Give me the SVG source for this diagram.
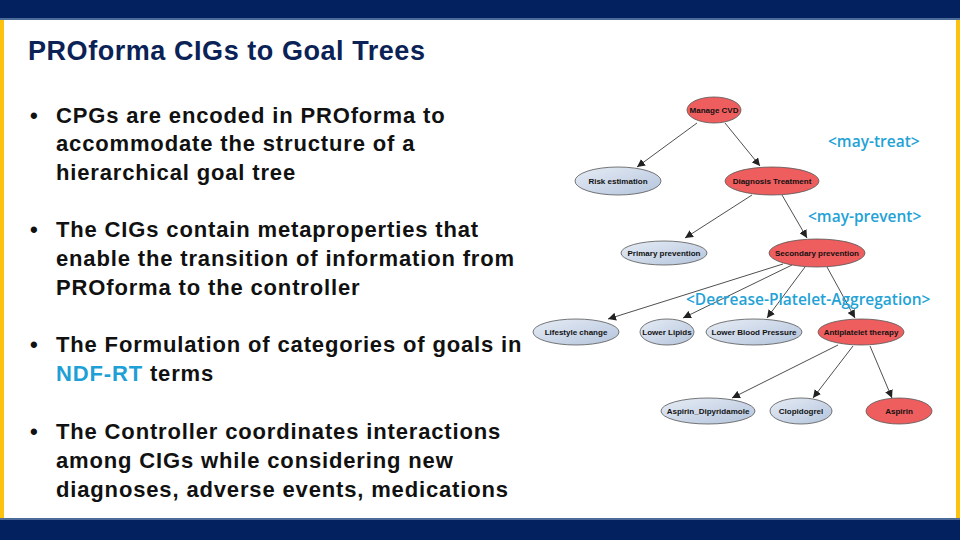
<svg xmlns="http://www.w3.org/2000/svg" width="960" height="540" viewBox="0 0 960 540">
<style>
.title{font-family:"Liberation Sans",Arial,sans-serif;font-weight:bold;font-size:27px;fill:#0b2256;letter-spacing:0.55px}
.b{font-family:"Liberation Sans",Arial,sans-serif;font-weight:bold;font-size:22px;fill:#111;letter-spacing:0.85px}
.hl{fill:#1e9fd6}
.rel{font-family:"Open Sans","Liberation Sans",sans-serif;font-weight:600;font-size:15.5px;fill:#23a2d6}
.red{fill:#ef5e5e;stroke:#555;stroke-width:0.8}
.blue{fill:url(#bg);stroke:#555;stroke-width:0.8}
.nt{font-family:"Liberation Sans",Arial,sans-serif;font-weight:bold;font-size:8px;fill:#111;text-anchor:middle}
.e{stroke:#222;stroke-width:0.8;fill:none;marker-end:url(#ah)}
</style>
<defs>
<linearGradient id="bg" x1="0" y1="0" x2="1" y2="1">
<stop offset="0" stop-color="#e6ecf5"/>
<stop offset="1" stop-color="#b4c4dc"/>
</linearGradient>
<marker id="ah" viewBox="0 0 10 10" refX="10" refY="5" markerWidth="8" markerHeight="8" markerUnits="userSpaceOnUse" orient="auto">
<path d="M0,0 L10,5 L0,10 z" fill="#222"/>
</marker>
</defs>
<rect x="0" y="0" width="960" height="540" fill="#fff"/>
<rect x="0" y="0" width="960" height="19" fill="#02215e"/>
<rect x="0" y="18" width="960" height="2" fill="#4c6b98"/>
<rect x="0" y="20" width="4" height="499" fill="#fcc210"/>
<rect x="956" y="20" width="4" height="499" fill="#fcc210"/>
<rect x="0" y="519" width="960" height="21" fill="#02215e"/>
<rect x="0" y="518" width="960" height="2" fill="#4c6b98"/>

<text class="title" x="28" y="60">PROforma CIGs to Goal Trees</text>

<g id="bullets">
<text class="b" x="30" y="123">•</text>
<text class="b" x="56" y="123">CPGs are encoded in PROforma to</text>
<text class="b" x="56" y="151">accommodate the structure of a</text>
<text class="b" x="56" y="180">hierarchical goal tree</text>
<text class="b" x="30" y="237">•</text>
<text class="b" x="56" y="237">The CIGs contain metaproperties that</text>
<text class="b" x="56" y="266">enable the transition of information from</text>
<text class="b" x="56" y="295">PROforma to the controller</text>
<text class="b" x="30" y="352">•</text>
<text class="b" x="56" y="352">The Formulation of categories of goals in</text>
<text class="b" x="56" y="381"><tspan class="hl">NDF-RT</tspan> terms</text>
<text class="b" x="30" y="439">•</text>
<text class="b" x="56" y="439">The Controller coordinates interactions</text>
<text class="b" x="56" y="468">among CIGs while considering new</text>
<text class="b" x="56" y="497">diagnoses, adverse events, medications</text>
</g>

<g id="edges">
<line class="e" x1="697" y1="123" x2="637" y2="167"/>
<line class="e" x1="725" y1="123" x2="760" y2="166"/>
<line class="e" x1="752" y1="195" x2="685" y2="238"/>
<line class="e" x1="782" y1="195" x2="807" y2="238"/>
<line class="e" x1="783" y1="264" x2="608" y2="319"/>
<line class="e" x1="792" y1="265" x2="683" y2="318"/>
<line class="e" x1="805" y1="267" x2="767" y2="318"/>
<line class="e" x1="827" y1="267" x2="855" y2="318"/>
<line class="e" x1="838" y1="345" x2="732" y2="398"/>
<line class="e" x1="853" y1="346" x2="813" y2="398"/>
<line class="e" x1="870" y1="346" x2="892" y2="398"/>
</g>

<g id="n-manage"><ellipse class="red" cx="714" cy="110" rx="27" ry="13"/><text class="nt" x="714" y="113">Manage CVD</text></g>
<g id="n-risk"><ellipse class="blue" cx="618" cy="181" rx="43" ry="14"/><text class="nt" x="618" y="184">Risk estimation</text></g>
<g id="n-diag"><ellipse class="red" cx="772" cy="181" rx="47" ry="14"/><text class="nt" x="772" y="184">Diagnosis  Treatment</text></g>
<g id="n-primary"><ellipse class="blue" cx="664" cy="253" rx="43" ry="12"/><text class="nt" x="664" y="256">Primary prevention</text></g>
<g id="n-secondary"><ellipse class="red" cx="817" cy="253" rx="48" ry="14"/><text class="nt" x="817" y="256">Secondary prevention</text></g>
<g id="n-lifestyle"><ellipse class="blue" cx="576" cy="332" rx="43" ry="13"/><text class="nt" x="576" y="335">Lifestyle change</text></g>
<g id="n-lipids"><ellipse class="blue" cx="667" cy="332" rx="27" ry="13"/><text class="nt" x="667" y="335">Lower Lipids</text></g>
<g id="n-bp"><ellipse class="blue" cx="754" cy="332" rx="48" ry="13"/><text class="nt" x="754" y="335">Lower Blood Pressure</text></g>
<g id="n-antiplatelet"><ellipse class="red" cx="861" cy="332" rx="43" ry="13"/><text class="nt" x="861" y="335">Antiplatelet therapy</text></g>
<g id="n-aspdip"><ellipse class="blue" cx="708" cy="411" rx="47" ry="13"/><text class="nt" x="708" y="414">Aspirin_Dipyridamole</text></g>
<g id="n-clop"><ellipse class="blue" cx="801" cy="411" rx="31" ry="13"/><text class="nt" x="801" y="414">Clopidogrel</text></g>
<g id="n-aspirin"><ellipse class="red" cx="899" cy="411" rx="33" ry="13"/><text class="nt" x="899" y="414">Aspirin</text></g>

<g id="labels">
<text class="rel" x="828" y="147">&lt;may-treat&gt;</text>
<text class="rel" x="808" y="222">&lt;may-prevent&gt;</text>
<text class="rel" x="686" y="305">&lt;Decrease-Platelet-Aggregation&gt;</text>
</g>
</svg>
